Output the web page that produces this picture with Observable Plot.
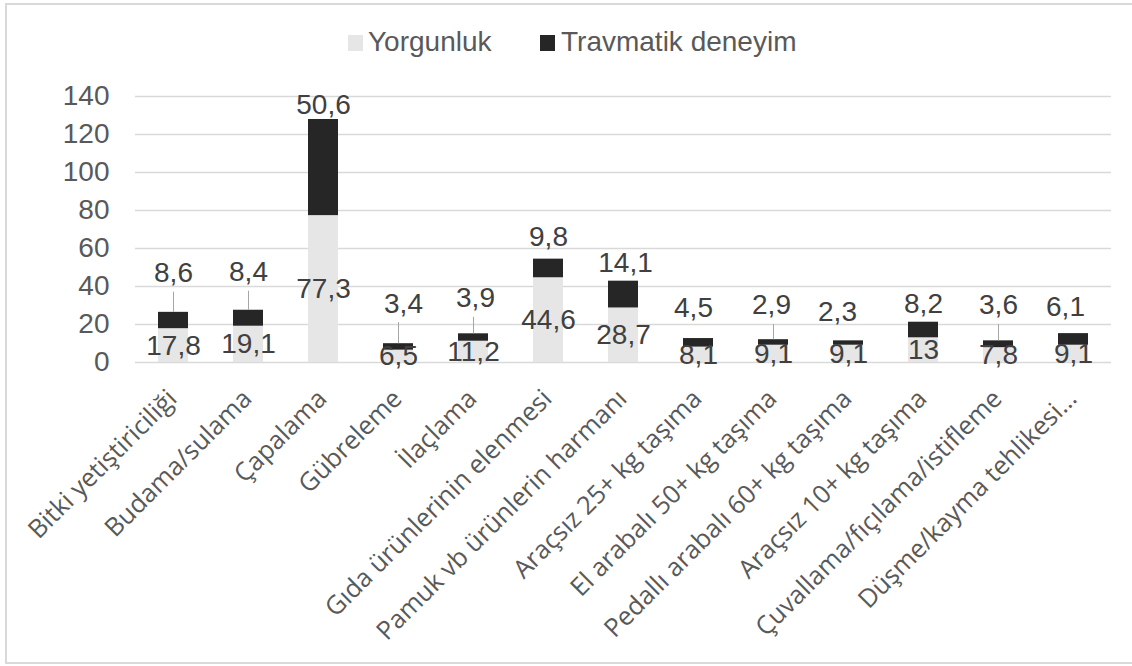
<!DOCTYPE html>
<html>
<head>
<meta charset="utf-8">
<script src="https://cdn.jsdelivr.net/npm/d3@7"></script>
<script src="https://cdn.jsdelivr.net/npm/@observablehq/plot@0.6"></script>
<style>
  html, body { margin: 0; padding: 0; background: #fff; width: 1132px; height: 666px; overflow: hidden; position: relative; }
  #frame { position: absolute; left: 5px; top: 3px; width: 1130px; height: 661px; box-sizing: border-box; border: 2px solid #d9d9d9; }
  .sw { position: absolute; width: 15px; height: 16px; }
  .lt { position: absolute; font-family: "Liberation Sans", Arial, sans-serif; font-size: 28px; line-height: 28px; color: #595959; white-space: nowrap; }
  #chart { position: absolute; left: 0; top: 70px; }
</style>
</head>
<body>
<div id="frame"></div>
<div id="legend"></div>
<div id="chart"></div>
<script>
const categories = [
  "Bitki yetiştiriciliği",
  "Budama/sulama",
  "Çapalama",
  "Gübreleme",
  "İlaçlama",
  "Gıda ürünlerinin elenmesi",
  "Pamuk vb ürünlerin harmanı",
  "Araçsız 25+ kg taşıma",
  "El arabalı 50+ kg taşıma",
  "Pedallı arabalı 60+ kg taşıma",
  "Araçsız 10+ kg taşıma",
  "Çuvallama/fıçılama/istifleme",
  "Düşme/kayma tehlikesi…"
];
const seriesNames = ["Yorgunluk", "Travmatik deneyim"];
const yorgunluk = [17.8, 19.1, 77.3, 6.5, 11.2, 44.6, 28.7, 8.1, 9.1, 9.1, 13, 7.8, 9.1];
const travmatik = [8.6, 8.4, 50.6, 3.4, 3.9, 9.8, 14.1, 4.5, 2.9, 2.3, 8.2, 3.6, 6.1];
const yTicks = [0, 20, 40, 60, 80, 100, 120, 140];

// label placement (data units / pixel nudges), as moved in the original chart
const travLabelY = [47, 47.5, 135.6, 31, 33.8, 66, 52.2, 28.5, 30, 26.4, 31, 30, 29];
const travLabelDx = [0, 0, 0, 5, 2, 0, 2, -5, -2, -11, 0, 0, -8];

const colors = ["#e7e6e6", "#262626"];
const fmt = v => String(v).replace(".", ",");

// legend
const legend = document.getElementById("legend");
legend.innerHTML = `
  <div class="sw" style="left:348px;top:35px;background:${colors[0]}"></div>
  <div class="lt" style="left:368px;top:28px">${seriesNames[0]}</div>
  <div class="sw" style="left:540px;top:35px;background:${colors[1]}"></div>
  <div class="lt" style="left:561px;top:28px">${seriesNames[1]}</div>`;

const rows = [];
categories.forEach((c, i) => {
  rows.push({cat: c, series: seriesNames[0], value: yorgunluk[i]});
  rows.push({cat: c, series: seriesNames[1], value: travmatik[i]});
});
const info = categories.map((c, i) => ({
  cat: c, y: yorgunluk[i], t: travmatik[i], total: yorgunluk[i] + travmatik[i],
  ly: travLabelY[i], dx: travLabelDx[i]
}));
const leaders = info.filter(d => d.ly - 10 - d.total > 7);

const textStyle = {fontFamily: "Liberation Sans, Arial, sans-serif", fontSize: 28, fill: "#404040"};

const chart = Plot.plot({
  width: 1132,
  height: 596,
  marginLeft: 135,
  marginRight: 21,
  marginTop: 26,
  marginBottom: 304,
  style: {background: "transparent", overflow: "visible"},
  x: {domain: categories, paddingInner: 0.6, paddingOuter: 0.3, label: null, axis: null},
  y: {domain: [0, 140], label: null},
  color: {domain: seriesNames, range: colors},
  marks: [
    Plot.gridY(yTicks, {stroke: "#d9d9d9", strokeOpacity: 1, strokeWidth: 1.5}),
    Plot.barY(rows, Plot.stackY({x: "cat", y: "value", fill: "series", order: null})),
    Plot.axisY({ticks: yTicks, tickSize: 0, tickPadding: 26, fontSize: 28, fontFamily: "Liberation Sans, Arial, sans-serif", fill: "#595959", label: null, tickFormat: d => d}),
    // category tick labels, rotated like the original
    Plot.text(categories, {x: d => d, frameAnchor: "bottom", rotate: -45, textAnchor: "end", lineAnchor: "middle", dx: -1, dy: 32, fontSize: 25.5, fontFamily: "Open Sans, sans-serif", fill: "#595959"}),
    Plot.text(info, {x: "cat", y: d => d.y / 2, text: d => fmt(d.y), ...textStyle}),
    Plot.ruleX(leaders, {x: "cat", y1: d => d.ly - 10, y2: "total", stroke: "#a6a6a6", strokeWidth: 1}),
    ...info.map(d => Plot.text([d], {x: "cat", y: "ly", text: d => fmt(d.t), dx: d.dx, ...textStyle}))
  ]
});
document.getElementById("chart").appendChild(chart);
</script>
</body>
</html>
